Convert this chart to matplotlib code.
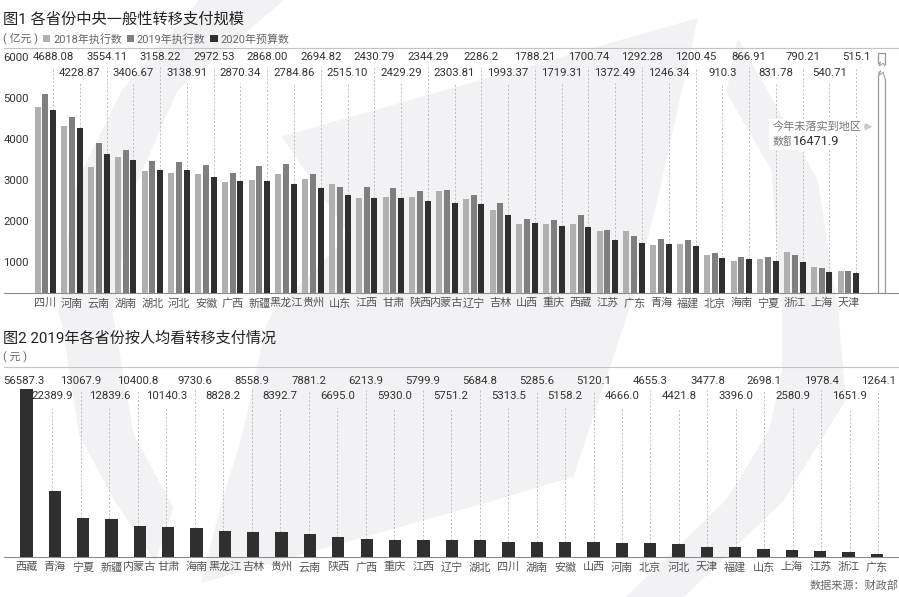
from matplotlib import pyplot as plt

# Fonte para números e caracteres chineses
plt.rcParams['font.family'] = ['Roboto', 'Noto Sans CJK SC']

# Dados do primeiro gráfico
prov1 = ['四川', '河南', '云南', '湖南', '湖北', '河北', '安徽', '广西', '新疆', '黑龙江', '贵州',
         '山东', '江西', '甘肃', '陕西', '内蒙古', '辽宁', '吉林', '山西', '重庆', '西藏', '江苏',
         '广东', '青海', '福建', '北京', '海南', '宁夏', '浙江', '上海', '天津']
val2018 = [4745, 4260, 3220, 3470, 3110, 3065, 3050, 2835, 2895, 3050, 2925,
           2790, 2440, 2465, 2455, 2610, 2405, 2125, 1780, 1775, 1765, 1590,
           1580, 1240, 1255, 965, 830, 875, 1045, 680, 570]
val2019 = [5085, 4490, 3830, 3655, 3370, 3355, 3280, 3080, 3235, 3300, 3045,
           2720, 2712, 2690, 2600, 2645, 2510, 2310, 1905, 1860, 1985, 1605,
           1470, 1375, 1360, 1020, 935, 925, 985, 645, 565]
val2020 = [4688.08, 4228.87, 3554.11, 3406.67, 3158.22, 3138.91, 2972.53, 2870.34, 2868.00, 2784.86, 2694.82,
           2515.10, 2430.79, 2429.29, 2344.29, 2303.81, 2286.2, 1993.37, 1788.21, 1719.31, 1700.74, 1372.49,
           1292.28, 1246.34, 1200.45, 910.3, 866.91, 831.78, 790.21, 540.71, 515.1]
rot2020 = ['4688.08', '4228.87', '3554.11', '3406.67', '3158.22', '3138.91', '2972.53', '2870.34', '2868.00',
           '2784.86', '2694.82', '2515.10', '2430.79', '2429.29', '2344.29', '2303.81', '2286.2', '1993.37',
           '1788.21', '1719.31', '1700.74', '1372.49', '1292.28', '1246.34', '1200.45', '910.3', '866.91',
           '831.78', '790.21', '540.71', '515.1']
marcas = [806, 1852, 2890, 3936, 4982, 6028]
rot_marcas = ['1000', '2000', '3000', '4000', '5000', '6000']

# Dados do segundo gráfico
prov2 = ['西藏', '青海', '宁夏', '新疆', '内蒙古', '甘肃', '海南', '黑龙江', '吉林', '贵州', '云南',
         '陕西', '广西', '重庆', '江西', '辽宁', '湖北', '四川', '湖南', '安徽', '山西', '河南',
         '北京', '河北', '天津', '福建', '山东', '上海', '江苏', '浙江', '广东']
rot_pessoa = ['56587.3', '22389.9', '13067.9', '12839.6', '10400.8', '10140.3', '9730.6', '8828.2',
              '8558.9', '8392.7', '7881.2', '6695.0', '6213.9', '5930.0', '5799.9', '5751.2',
              '5684.8', '5313.5', '5285.6', '5158.2', '5120.1', '4666.0', '4655.3', '4421.8',
              '3477.8', '3396.0', '2698.1', '2580.9', '1978.4', '1651.9', '1264.1']
val_pessoa = [float(c) for c in rot_pessoa]

# Marca d'água cinza ao fundo
plt.figure(figsize=(8.99, 5.97), dpi=100)
plt.axes([0, 0, 1, 1])
plt.fill([200, 283, 177, 133, 112, 133, 173, 155, 115, 80, 63, 59, 75, 85, 123],
         [0, 0, 90, 190, 313, 435, 508, 560, 500, 435, 325, 313, 190, 167, 90], color='#f2f2f4')
plt.fill([283, 697, 659, 630, 573, 493, 202, 223, 243, 267, 273, 350],
         [137, 19, 190, 305, 476, 500, 582, 500, 435, 325, 313, 235], color='#f2f2f4')
plt.fill([738, 817, 838, 845, 783, 683, 627, 727, 770, 783, 783, 772, 727],
         [40, 180, 315, 400, 500, 597, 597, 500, 430, 370, 315, 170, 92], color='#f2f2f4')
plt.xlim(0, 899)
plt.ylim(597, 0)
plt.axis('off')

# Gráfico 1
plt.axes([4 / 899, 303.7 / 597, 895 / 899, 245.3 / 597], facecolor='none')
pos = list(range(0, 31))
plt.bar([c - 0.29 for c in pos], val2018, width=0.224, color='#b0b0b0', label='2018年执行数', zorder=3)
plt.bar(pos, val2019, width=0.224, color='#7f7f7f', label='2019年执行数', zorder=3)
plt.bar([c + 0.29 for c in pos], val2020, width=0.224, color='#2f2f2f', label='2020年预算数', zorder=3)
for c in pos:
    if c % 2 == 0:
        plt.text(c + 0.29, 6028, rot2020[c], ha='center', va='center', fontsize=8.2, color='#333333')
        plt.vlines(c + 0.29, val2020[c], 5773, color='#bdbdbd', linewidth=0.7, linestyles=(0, (2, 2)), zorder=1)
    else:
        plt.text(c + 0.29, 5620, rot2020[c], ha='center', va='center', fontsize=8.2, color='#333333')
        plt.vlines(c + 0.29, val2020[c], 5365, color='#bdbdbd', linewidth=0.7, linestyles=(0, (2, 2)), zorder=1)

# Coluna cortada à direita
plt.bar([31.24], [6130], width=0.25, facecolor='white', edgecolor='#999999', linewidth=0.9, zorder=3)
plt.plot([31.115, 31.2, 31.15, 31.3, 31.365], [5850, 5900, 5800, 5870, 5800], color='#999999', linewidth=0.7, zorder=5)
plt.fill([31.08, 31.4, 31.4, 31.08], [5850, 5800, 5480, 5600], color='white', zorder=4)
plt.plot([31.115, 31.2, 31.15, 31.3, 31.365], [5600, 5680, 5560, 5640, 5480], color='#999999', linewidth=0.7, zorder=5)

# Anotação sobre o total não distribuído
plt.text(27.15, 4250, '今年未落实到地区', fontsize=8, color='#777777', va='center', zorder=4,
         bbox=dict(facecolor='white', edgecolor='none', pad=2))
plt.text(27.15, 3870, '数额', fontsize=8, color='#777777', va='center', zorder=4,
         bbox=dict(facecolor='white', edgecolor='none', pad=2))
plt.text(27.92, 3870, '16471.9', fontsize=9.2, color='#333333', va='center', zorder=4,
         bbox=dict(facecolor='white', edgecolor='none', pad=1))
plt.annotate('', xy=(31.0, 4250), xytext=(30.45, 4250),
             arrowprops=dict(arrowstyle='-|>', color='#c8c8c8', linewidth=1))

plt.xticks(pos, prov1, fontsize=8, color='#555555')
plt.yticks(marcas, rot_marcas, fontsize=8.2, color='#333333')
plt.tick_params(axis='both', length=0)
plt.tick_params(axis='x', pad=3.5)
plt.tick_params(axis='y', pad=0.5)
for rot in plt.gca().get_yticklabels():
    rot.set_ha('left')
plt.xlim(-1.543, 31.89)
plt.ylim(0, 6258)
plt.gca().spines['left'].set_visible(False)
plt.gca().spines['right'].set_visible(False)
plt.gca().spines['top'].set_color('#c4c4c4')
plt.gca().spines['bottom'].set_color('#8c8c8c')
plt.legend(loc='lower left', bbox_to_anchor=(0.0436, 1.014), ncol=3, frameon=False, fontsize=7.9,
           labelcolor='#666666', handlelength=0.64, handleheight=0.64, handletextpad=0.27,
           columnspacing=0.45, borderaxespad=0, borderpad=0)

# Gráfico 2
plt.axes([4 / 899, 39.7 / 597, 895 / 899, 190.6 / 597], facecolor='none')
plt.bar(pos, val_pessoa, width=0.434, color='#2f2f2f', zorder=3)
for c in pos:
    xlinha = c * 1.0046 - 0.088
    if c % 2 == 0:
        plt.text(xlinha, 59360, rot_pessoa[c], ha='center', va='center', fontsize=8.2, color='#333333')
        if c > 0:  # O primeiro valor não tem linha porque a barra chega até o rótulo
            plt.vlines(xlinha, val_pessoa[c], 56330, color='#bdbdbd', linewidth=0.7, linestyles=(0, (2, 2)), zorder=1)
    else:
        plt.text(xlinha, 54410, rot_pessoa[c], ha='center', va='center', fontsize=8.2, color='#333333')
        plt.vlines(xlinha, val_pessoa[c], 50270, color='#bdbdbd', linewidth=0.7, linestyles=(0, (2, 2)), zorder=1)
plt.xticks(pos, prov2, fontsize=8, color='#555555')
plt.yticks([])
plt.tick_params(axis='x', length=0, pad=3.5)
plt.xlim(-0.794, 30.78)
plt.ylim(0, 64175)
plt.gca().spines['left'].set_visible(False)
plt.gca().spines['right'].set_visible(False)
plt.gca().spines['top'].set_color('#c4c4c4')
plt.gca().spines['bottom'].set_color('#8c8c8c')

# Títulos e notas
plt.figtext(3 / 899, 1 - 20 / 597, '图1 各省份中央一般性转移支付规模', fontsize=11, color='#222222', va='center')
plt.figtext(3 / 899, 1 - 38 / 597, '( 亿元 )', fontsize=7.9, color='#666666', va='center')
plt.figtext(3 / 899, 1 - 339 / 597, '图2 2019年各省份按人均看转移支付情况', fontsize=10.9, color='#222222', va='center')
plt.figtext(3 / 899, 1 - 357 / 597, '( 元 )', fontsize=7.9, color='#666666', va='center')
plt.figtext(1, 1 - 585.7 / 597, '数据来源：财政部', fontsize=8, color='#666666', ha='right', va='center')

plt.savefig('out.png', dpi=100)
